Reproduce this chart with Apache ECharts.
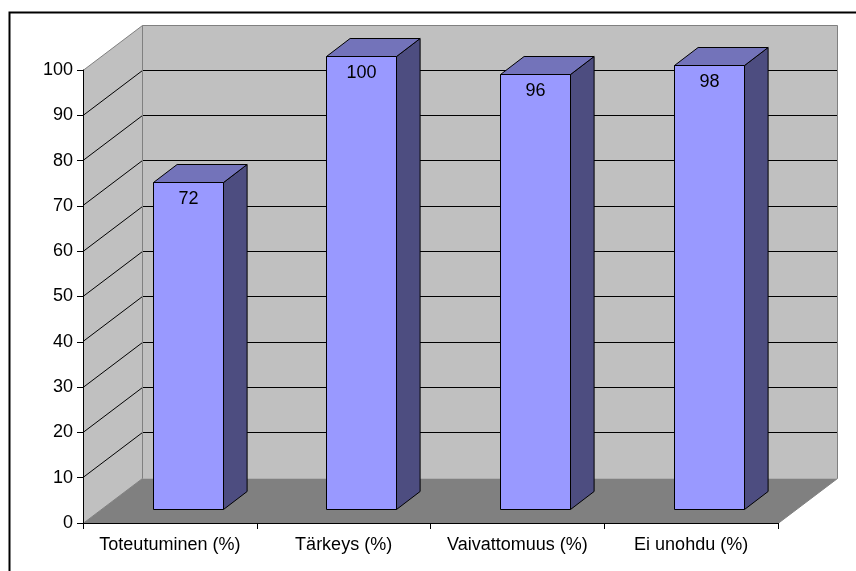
<!DOCTYPE html>
<html>
<head>
<meta charset="utf-8">
<script src="https://cdn.jsdelivr.net/npm/echarts@6/dist/echarts.min.js"></script>
<style>
  html, body { margin: 0; padding: 0; background: #fff; }
  #chart { width: 856px; height: 571px; }
</style>
</head>
<body>
<div id="chart"></div>
<script>
// Survey results, percent per criterion
const categories = ['Toteutuminen (%)', 'Tärkeys (%)', 'Vaivattomuus (%)', 'Ei unohdu (%)'];
const values = [72, 100, 96, 98];
const yTicks = [0, 10, 20, 30, 40, 50, 60, 70, 80, 90, 100];

// Oblique projection of the depth axis (pixels)
const DX = 59, DY = 45;
// Bars sit between these depth fractions, and take this share of a band
const F0 = 0.31, F1 = 0.71, BAR_W = 0.4;

const FONT = 'Liberation Sans, Arial, sans-serif';
const crisp = v => Math.round(v - 0.5) + 0.5;

function renderWalls(params, api) {
  const cs = params.coordSys;
  const x0 = cs.x, x1 = cs.x + cs.width;
  const yMin = yTicks[0], yMax = yTicks[yTicks.length - 1];
  const yb = crisp(api.coord([0, yMin])[1]);
  const yt = crisp(api.coord([0, yMax])[1]);
  const bx0 = crisp(x0 + DX), bx1 = crisp(x1 + DX);
  const children = [
    { type: 'polygon', shape: { points: [[x0, yb], [x0, yt], [bx0, yt - DY], [bx0, yb - DY]] },
      style: { fill: '#C0C0C0' } },
    { type: 'rect', shape: { x: bx0, y: yt - DY, width: bx1 - bx0, height: yb - yt },
      style: { fill: '#C0C0C0' } },
    { type: 'polygon', shape: { points: [[x0, yb], [x1, yb], [bx1, yb - DY], [bx0, yb - DY]] },
      style: { fill: '#808080' } }
  ];
  yTicks.forEach(v => {
    if (v === yMin || v === yMax) return;
    const y = crisp(api.coord([0, v])[1]);
    children.push({ type: 'polyline', shape: { points: [[x0, y], [bx0, y - DY], [bx1, y - DY]] },
      style: { stroke: '#000', lineWidth: 1, fill: null } });
  });
  const edge = { stroke: '#808080', lineWidth: 1, fill: null };
  children.push(
    { type: 'polyline', shape: { points: [[x0, yt], [bx0, yt - DY], [bx1, yt - DY], [bx1, yb - DY], [x1, yb]] }, style: edge },
    { type: 'line', shape: { x1: bx0, y1: yt - DY, x2: bx0, y2: yb - DY }, style: edge },
    { type: 'line', shape: { x1: x0, y1: yb, x2: bx0, y2: yb - DY }, style: edge }
  );
  return { type: 'group', children };
}

function renderBar(params, api) {
  const i = api.value(0), v = api.value(1);
  const base = api.coord([i, 0]);
  const top = api.coord([i, v]);
  const band = api.size([1, 0])[0];
  const w = Math.round(band * BAR_W);
  const fx = crisp(base[0] + F0 * DX - w / 2);
  const bottom = crisp(base[1] - F0 * DY);
  const topY = crisp(top[1] - F0 * DY);
  const ddx = (F1 - F0) * DX, ddy = (F1 - F0) * DY;
  const line = { stroke: '#000', lineWidth: 1 };
  return {
    type: 'group',
    children: [
      { type: 'polygon',
        shape: { points: [[fx + w, bottom], [fx + w, topY], [fx + w + ddx, topY - ddy], [fx + w + ddx, bottom - ddy]] },
        style: Object.assign({ fill: '#4D4D80' }, line) },
      { type: 'polygon',
        shape: { points: [[fx, topY], [fx + w, topY], [fx + w + ddx, topY - ddy], [fx + ddx, topY - ddy]] },
        style: Object.assign({ fill: '#7373BA' }, line) },
      { type: 'rect', shape: { x: fx, y: topY, width: w, height: bottom - topY },
        style: Object.assign({ fill: '#9999FF' }, line) },
      { type: 'text',
        style: { x: fx + w / 2, y: topY + 17, text: String(v), fill: '#000',
                 font: '18px ' + FONT, align: 'center', verticalAlign: 'middle' } }
    ]
  };
}

const chart = echarts.init(document.getElementById('chart'), null, { renderer: 'canvas' });
chart.setOption({
  animation: false,
  backgroundColor: '#ffffff',
  graphic: [{
    type: 'rect', left: 7, top: 10, z: 100,
    shape: { x: 0, y: 0, width: 880, height: 600 },
    style: { fill: null, stroke: '#000', lineWidth: 2 }
  }],
  grid: { left: 83, right: 78, top: 70, bottom: 48, containLabel: false },
  xAxis: {
    type: 'category',
    data: categories,
    z: 10,
    axisLine: { lineStyle: { color: '#000', width: 1 } },
    axisTick: { show: true, length: 6, lineStyle: { color: '#000' } },
    axisLabel: { color: '#000', fontSize: 18, fontFamily: FONT, margin: 13, interval: 0 },
    splitLine: { show: false }
  },
  yAxis: {
    type: 'value',
    min: yTicks[0],
    max: yTicks[yTicks.length - 1],
    interval: 10,
    z: 10,
    axisLine: { show: true, lineStyle: { color: '#000', width: 1 } },
    axisTick: { show: true, length: 6, lineStyle: { color: '#000' } },
    axisLabel: { color: '#000', fontSize: 18, fontFamily: FONT, margin: 10 },
    splitLine: { show: false }
  },
  series: [
    {
      type: 'custom',
      z: 1,
      clip: false,
      silent: true,
      renderItem: renderWalls,
      data: [[0, 0]],
      encode: { x: 0, y: 1 }
    },
    {
      type: 'custom',
      z: 3,
      clip: false,
      renderItem: renderBar,
      data: values.map((v, i) => [i, v]),
      encode: { x: 0, y: 1 }
    }
  ]
});
</script>
</body>
</html>
